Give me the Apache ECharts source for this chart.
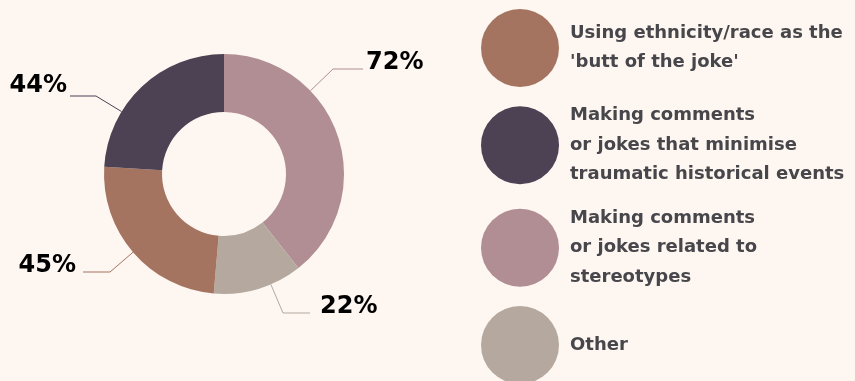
<!DOCTYPE html>
<html>
<head>
<meta charset="utf-8">
<script src="https://cdn.jsdelivr.net/npm/echarts@6/dist/echarts.min.js"></script>
<style>
  html, body { margin: 0; padding: 0; background: #fdf6f1; }
  #chart { width: 855px; height: 381px; }
</style>
</head>
<body>
<div id="chart"></div>
<script>
// Share of respondents who reported each kind of joke
const categories = [
  "Making comments\nor jokes related to\nstereotypes",
  "Other",
  "Using ethnicity/race as the\n'butt of the joke'",
  "Making comments\nor jokes that minimise\ntraumatic historical events"
];
const values = [72, 22, 45, 44];
const colors = ['#b08e93', '#b5a99f', '#a57460', '#4d4254'];

// order the legend lists its entries in
const legendOrder = [2, 3, 0, 1];

// donut geometry
const pieCenter = [224, 174];
const pieRadius = [62, 120];

// value label placement: text anchor, side of the text, and where its leader line ends
const labelSpots = [
  { tx: 366, ty: 63, align: 'left', lx: 363, ly: 69, run: 30 },
  { tx: 320, ty: 307, align: 'left', lx: 310, ly: 313, run: 27 },
  { tx: 76, ty: 266, align: 'right', lx: 83, ly: 272, run: 27 },
  { tx: 67, ty: 86, align: 'right', lx: 70, ly: 96, run: 26 }
];

// leader line: horizontal run next to the label, then straight in to the nearest point of the ring
function leaderLine(s) {
  const dir = s.align === 'left' ? -1 : 1;
  const kx = s.lx + dir * s.run;
  const ky = s.ly;
  const vx = kx - pieCenter[0];
  const vy = ky - pieCenter[1];
  const d = Math.sqrt(vx * vx + vy * vy);
  const r = pieRadius[1];
  return [
    [pieCenter[0] + vx / d * r, pieCenter[1] + vy / d * r],
    [kx, ky],
    [s.lx, s.ly]
  ];
}

const chart = echarts.init(document.getElementById('chart'));

chart.setOption({
  backgroundColor: '#fdf6f1',
  animation: false,
  legend: {
    orient: 'vertical',
    left: 481,
    top: 9,
    height: 400,
    padding: 0,
    icon: 'circle',
    itemWidth: 90,
    itemHeight: 78,
    itemGap: 14,
    selectedMode: false,
    data: legendOrder.map(i => categories[i]),
    textStyle: {
      fontFamily: 'DejaVu Sans',
      fontWeight: 'bold',
      fontSize: 18,
      lineHeight: 29.5,
      color: '#47464b'
    }
  },
  series: [{
    type: 'pie',
    center: pieCenter,
    radius: pieRadius,
    startAngle: 90,
    clockwise: true,
    avoidLabelOverlap: false,
    emphasis: { disabled: true },
    label: {
      show: true,
      formatter: '{c}%',
      fontFamily: 'DejaVu Sans',
      fontStyle: 'normal',
      fontWeight: 'bold',
      fontSize: 24,
      color: '#000000'
    },
    labelLine: {
      show: true,
      length: 20,
      length2: 28,
      lineStyle: { width: 1 }
    },
    labelLayout: function (params) {
      const s = labelSpots[params.dataIndex];
      return {
        x: s.tx,
        y: s.ty,
        align: s.align,
        verticalAlign: 'middle',
        labelLinePoints: leaderLine(s)
      };
    },
    data: categories.map((name, i) => ({
      name: name,
      value: values[i],
      itemStyle: { color: colors[i] }
    }))
  }]
});
</script>
</body>
</html>
